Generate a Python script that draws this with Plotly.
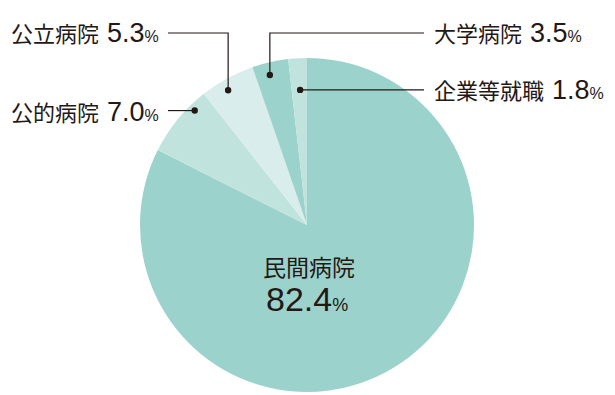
import math
import plotly.graph_objects as go

# ---- data ----
categories = ["民間病院", "公的病院", "公立病院", "大学病院", "企業等就職"]
values = [82.4, 7.0, 5.3, 3.5, 1.8]

# ---- style ----
colors = ["#9bd3cc", "#c0e3de", "#d9eeec", "#9bd3cc", "#c0e3de"]
W, H = 615, 395
CX, CY, R = 307, 225, 167  # pie centre / radius in pixels
TXT = "#231815"
FONT = "Liberation Sans, 'Noto Sans CJK JP', sans-serif"

fig = go.Figure(go.Pie(
    labels=categories, values=values, sort=False, direction="clockwise",
    rotation=0, marker=dict(colors=colors, line=dict(width=0)),
    textinfo="none", hoverinfo="skip", showlegend=False,
    domain=dict(x=[(CX - R) / W, (CX + R) / W],
                y=[(H - CY - R) / H, (H - CY + R) / H]),
))

def px(x):
    return x / W

def py(y):
    return 1 - y / H

# angles of slices (clockwise from top)
total = sum(values)
starts, cum = [], 0.0
for v in values:
    starts.append(cum / total * 360)
    cum += v
spans = [v / total * 360 for v in values]

# where inside each slice the leader dot sits (fraction of span, fraction of radius)
dot_pos = {1: (0.75, 0.96), 2: (0.41, 0.935), 3: (0.41, 0.925), 4: (0.55, 0.81)}

def dot(i):
    f, rf = dot_pos[i]
    a = math.radians(starts[i] + f * spans[i])
    return CX + R * rf * math.sin(a), CY - R * rf * math.cos(a)

shapes = []
def line(pts):
    path = "M " + " L ".join(f"{px(x)},{py(y)}" for x, y in pts)
    shapes.append(dict(type="path", xref="paper", yref="paper", path=path,
                       line=dict(color=TXT, width=1.2)))

def marker(x, y, r=3.2):
    shapes.append(dict(type="circle", xref="paper", yref="paper",
                       x0=px(x - r), x1=px(x + r), y0=py(y + r), y1=py(y - r),
                       fillcolor=TXT, line=dict(width=0)))

# label rows (y in px) and text ends
row_top = 33
LEFT_END, RIGHT_START = 168, 424

d1 = dot(1); line([(LEFT_END, d1[1]), d1]); marker(*d1)
d2 = dot(2); line([(LEFT_END, row_top), (d2[0], row_top), d2]); marker(*d2)
d3 = dot(3); line([d3, (d3[0], row_top), (RIGHT_START, row_top)]); marker(*d3)
d4 = dot(4); line([d4, (RIGHT_START, d4[1])]); marker(*d4)

def lab(i, big=27, small=16):
    return (f"{categories[i]}&#8202; <span style='font-size:{big}px'>{values[i]:.1f}</span>"
            f"<span style='font-size:{small}px'>%</span>")

annotations = [
    dict(x=px(161), y=py(row_top), text=lab(2), xanchor="right"),
    dict(x=px(161), y=py(d1[1] + 1), text=lab(1), xanchor="right"),
    dict(x=px(432), y=py(row_top), text=lab(3), xanchor="left"),
    dict(x=px(432), y=py(d4[1]), text=lab(4), xanchor="left"),
    dict(x=px(CX + 2), y=py(268), text=categories[0], xanchor="center",
         font=dict(family=FONT, size=23, color=TXT)),
    dict(x=px(CX), y=py(299),
         text=f"<span style='font-size:34px'>{values[0]:.1f}</span>"
              f"<span style='font-size:18px'>%</span>", xanchor="center"),
]
for a in annotations:
    a.update(xref="paper", yref="paper", yanchor="middle", showarrow=False)
    a.setdefault("font", dict(family=FONT, size=22, color=TXT))

fig.update_layout(
    width=W, height=H, margin=dict(l=0, r=0, t=0, b=0),
    paper_bgcolor="white", plot_bgcolor="white",
    shapes=shapes, annotations=annotations,
)
fig.write_html("out.html", config={"displayModeBar": False},
               post_script="document.body.style.margin='0px';document.body.style.padding='0px';")
